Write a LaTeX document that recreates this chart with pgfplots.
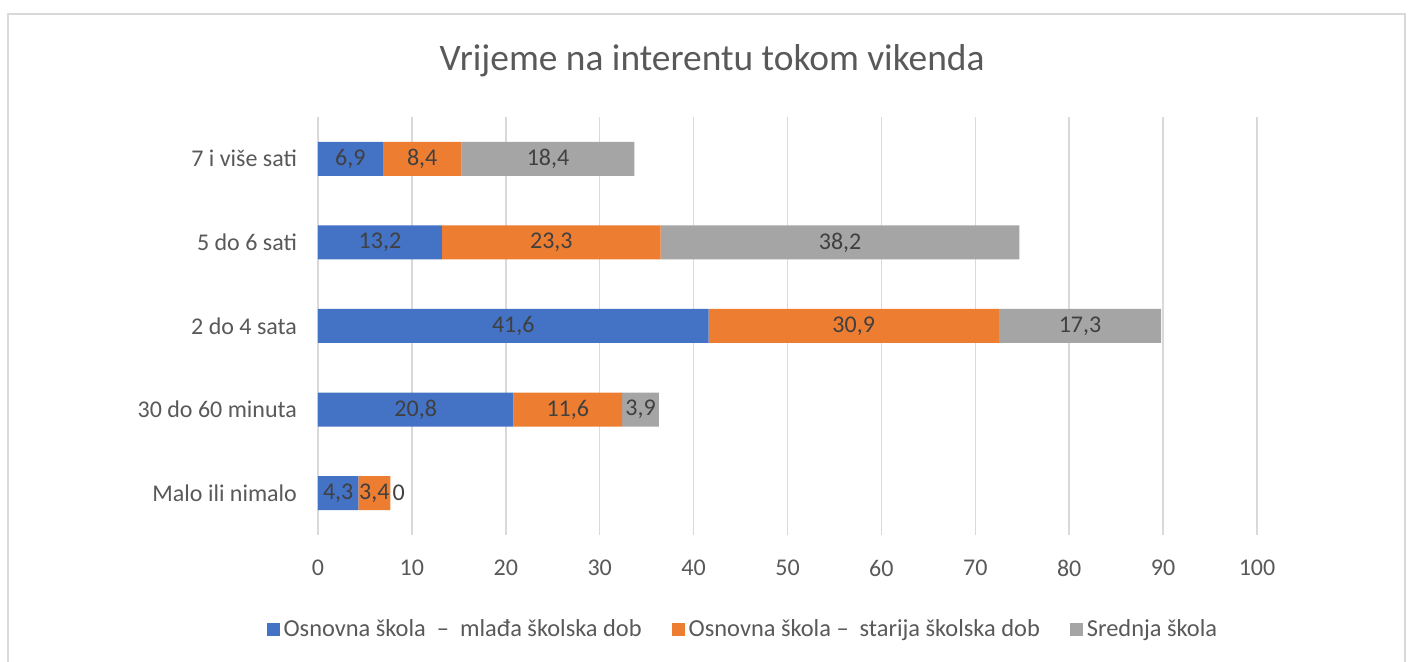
\documentclass[border=0pt]{standalone}
\usepackage{pgfplots}
\pgfplotsset{compat=1.18}
\usepackage{fontspec}
\setmainfont{Carlito}
\definecolor{cblue}{HTML}{4472C4}
\definecolor{corange}{HTML}{ED7D31}
\definecolor{cgray}{HTML}{A5A5A5}
\definecolor{ctext}{HTML}{595959}
\definecolor{clab}{HTML}{404040}
\definecolor{cgrid}{HTML}{D9D9D9}
\pgfplotsset{
  geom/.style={at={(159pt,63.5pt)}, anchor=south west,
    scale only axis, width=469.5pt, height=209pt,
    xmin=0, xmax=100, ymin=-0.5, ymax=4.5},
  lab/.style={draw=none, mark=none, nodes near coords, point meta=explicit symbolic,
    every node near coord/.append style={anchor=center, font=\fontsize{12}{14}\selectfont, text=clab}},
}
\begin{document}
\begin{tikzpicture}
\useasboundingbox (0,0) rectangle (704pt,331pt);
\fill[white] (0,0) rectangle (704pt,331pt);
\draw[cgrid, line width=1pt] (4pt,-5pt) rectangle (702.5pt,324pt);
\node[anchor=base, font=\fontsize{18.7}{22}\selectfont, text=ctext] at (356pt,295.5pt) {Vrijeme na interentu tokom vikenda};
\begin{axis}[
  geom,
  xbar stacked, bar width=17pt,
  xtick={0,10,...,100},
  ytick={0,1,2,3,4},
  yticklabels={Malo ili nimalo, 30 do 60 minuta, 2 do 4 sata, 5 do 6 sati, 7 i više sati},
  xmajorgrids, major grid style={cgrid, line width=0.75pt},
  axis line style={draw=none}, tick style={draw=none},
  ticklabel style={font=\fontsize{12}{14}\selectfont, text=ctext},
  /pgf/number format/assume math mode=true,
  xticklabel style={yshift=-9pt},
  yticklabel style={xshift=-7pt},
  legend columns=3,
  legend style={at={(0.4535,-0.227)}, anchor=center, draw=none, fill=none, font=\fontsize{12.2}{14}\selectfont, text=ctext, /tikz/every even column/.append style={column sep=13pt}},
  legend image code/.code={\fill[#1] (0pt,-3.25pt) rectangle (6.5pt,3.25pt);},
]
\addplot[fill=cblue, draw=none] coordinates {(4.3,0) (20.8,1) (41.6,2) (13.2,3) (6.9,4)};
\addlegendentry{Osnovna škola \ – \ mlađa školska dob}
\addplot[fill=corange, draw=none] coordinates {(3.4,0) (11.6,1) (30.9,2) (23.3,3) (8.4,4)};
\addlegendentry{Osnovna škola – \ starija školska dob}
\addplot[fill=cgray, draw=none] coordinates {(0,0) (3.9,1) (17.3,2) (38.2,3) (18.4,4)};
\addlegendentry{Srednja škola}
\end{axis}
\begin{axis}[geom, hide axis]
\addplot[lab] coordinates {(2.15,0)[4,3] (10.4,1)[20,8] (20.8,2)[41,6] (6.6,3)[13,2] (3.45,4)[6,9]};
\addplot[lab] coordinates {(6.0,0)[3,4] (26.6,1)[11,6] (57.05,2)[30,9] (24.85,3)[23,3] (11.1,4)[8,4]};
\addplot[lab] coordinates {(34.35,1)[3,9] (81.15,2)[17,3] (55.6,3)[38,2] (24.5,4)[18,4]};
\addplot[lab, every node near coord/.append style={anchor=west, inner sep=0pt, xshift=1pt}] coordinates {(7.7,0)[0]};
\end{axis}
\end{tikzpicture}
\end{document}
